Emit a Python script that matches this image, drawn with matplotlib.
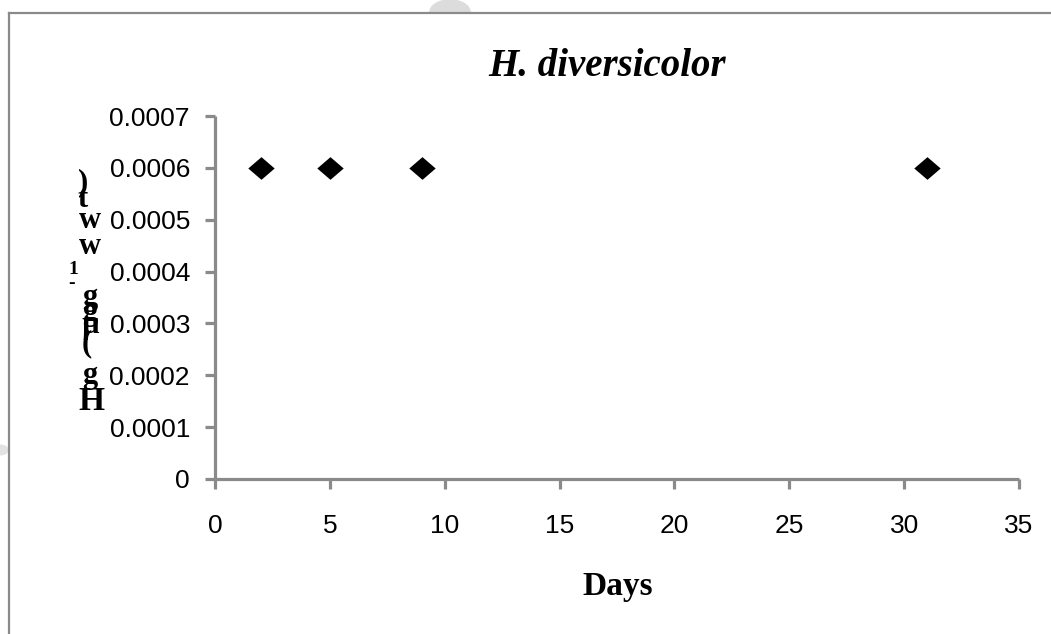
import matplotlib
matplotlib.use("Agg")
import matplotlib.pyplot as plt
from matplotlib.patches import Wedge
from matplotlib.lines import Line2D

# data
days = [2, 5, 9, 31]
hg = [0.0006, 0.0006, 0.0006, 0.0006]
x_ticks = [0, 5, 10, 15, 20, 25, 30, 35]
y_ticks = [0, 0.0001, 0.0002, 0.0003, 0.0004, 0.0005, 0.0006, 0.0007]
y_tick_labels = ["0", "0.0001", "0.0002", "0.0003", "0.0004", "0.0005", "0.0006", "0.0007"]

TITLE = "H. diversicolor"
XLABEL = "Days"
# y label came out as a broken stack of characters in the original
YLABEL_CHARS = [")", "t", "w", "w", "1", "-", "g", "g", "µ", "(", "g", "H"]

W, H = 1051, 634
GREY = "#8a8a8a"

fig = plt.figure(figsize=(W / 100, H / 100), dpi=100)
ax = fig.add_axes([215 / W, 1 - 479 / H, (1019 - 215) / W, (479 - 116) / H])

diamond = [(-1, 0), (0, 0.86), (1, 0), (0, -0.86), (-1, 0)]
ax.plot(days, hg, linestyle="none", marker=diamond, markersize=19,
        color="black", markeredgewidth=0, zorder=3, clip_on=False)

ax.set_xlim(0, 35)
ax.set_ylim(0, 0.0007)
ax.set_xticks(x_ticks)
ax.set_yticks(y_ticks)
ax.set_yticklabels(y_tick_labels)

for s in ("top", "right"):
    ax.spines[s].set_visible(False)
for s in ("left", "bottom"):
    ax.spines[s].set_color(GREY)
    ax.spines[s].set_linewidth(2.3)
    ax.spines[s].set_capstyle("butt")

ax.tick_params(axis="both", direction="out", length=7, width=2.3, color=GREY,
               labelsize=19, labelcolor="black")
ax.tick_params(axis="y", pad=11)
ax.tick_params(axis="x", pad=18)
for lab in ax.get_xticklabels() + ax.get_yticklabels():
    lab.set_family("Liberation Sans")

# title and x label (serif, bold)
fig.text(607 / W, 1 - 76 / H, TITLE, ha="center", va="baseline",
         family="Liberation Serif", weight="bold", style="italic", fontsize=28)
fig.text(618 / W, 1 - 595 / H, XLABEL, ha="center", va="baseline",
         family="Liberation Serif", weight="bold", fontsize=24)

# stacked y label characters (pixel positions of each glyph)
ylab_xy = [(83, 183), (83, 199), (90, 220), (90, 247), (73, 270), (72, 283),
           (90, 297), (90, 312), (90, 326), (87, 344), (90, 375), (91, 401)]
ylab_size = [22, 22, 22, 22, 14, 14, 22, 22, 22, 22, 22, 24]
for ch, (px, py), fs in zip(YLABEL_CHARS, ylab_xy, ylab_size):
    fig.text(px / W, 1 - py / H, ch, ha="center", va="center",
             family="Liberation Serif", weight="bold", fontsize=fs)

# outer frame of the chart area
fig.add_artist(Line2D([9 / W, 1.0], [1 - 13 / H, 1 - 13 / H], color=GREY, lw=1.6))
fig.add_artist(Line2D([9 / W, 9 / W], [0.0, 1 - 13 / H], color=GREY, lw=1.6))

# faint watermark pieces
fig.add_artist(Wedge((450 / W, 1 - 12 / H), 20 / W, 0, 180, color="#dcdcdc",
                     transform=fig.transFigure, zorder=0))
fig.add_artist(Wedge((0, 1 - 450 / H), 8 / W, -90, 90, color="#e2e2e2",
                     transform=fig.transFigure, zorder=0))

fig.savefig("out.png", dpi=100)
